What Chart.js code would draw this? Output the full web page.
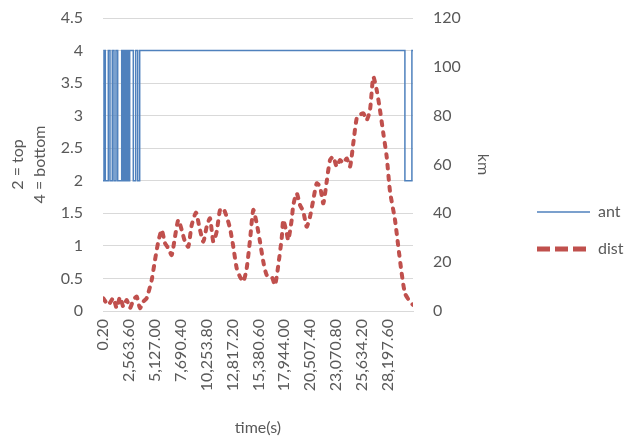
<!DOCTYPE html>
<html>
<head>
<meta charset="utf-8">
<script src="https://cdn.jsdelivr.net/npm/chart.js@4/dist/chart.umd.min.js"></script>
<style>
html,body{margin:0;padding:0;background:#fff;}
#c{display:block;}
</style>
</head>
<body>
<canvas id="c" width="627" height="437"></canvas>
<script>
// time ticks shown on x axis (seconds)
const xTickValues = [0.2, 2563.6, 5127.0, 7690.4, 10253.8, 12817.2, 15380.6, 17944.0, 20507.4, 23070.8, 25634.2, 28197.6];
const xMax = 30690;

// ant: antenna position (2 = top, 4 = bottom), value holds until next change
const antTime = [0.2, 99, 228, 525, 693, 921, 1089, 1287, 1455, 1851, 1950, 2049, 2148, 2247, 2346, 2445, 2505, 2643, 3000, 3237, 3435, 3633, 29889, 30582, 30690];
const antVal  = [2, 4, 2, 4, 2, 4, 2, 4, 2, 4, 2, 4, 2, 4, 2, 4, 2, 4, 2, 4, 2, 4, 2, 4, 4];

// dist: distance in km
const distTime = [30, 525, 1020, 1356, 1683, 2010, 2346, 2673, 3000, 3336, 3663, 3990, 4326, 4821, 5148, 5475, 5811, 6138, 6465, 6801, 7128, 7455, 7791, 8118, 8445, 8781, 9207, 9534, 9930, 10266, 10593, 10920, 11256, 11583, 11910, 12246, 12573, 12900, 13236, 13563, 13890, 14226, 14553, 14880, 15216, 15543, 15870, 16206, 16701, 17028, 17355, 17691, 17850, 18186, 18345, 18681, 18840, 19176, 19503, 19830, 20166, 20493, 20820, 21156, 21483, 21810, 22146, 22473, 22800, 23136, 23463, 23790, 24126, 24453, 24780, 25116, 25443, 25770, 26106, 26433, 26760, 27096, 27423, 27750, 28086, 28413, 28908, 29235, 29571, 29898, 30393, 30690];
const distVal  = [5.2, 2.5, 5.3, 1.2, 5.7, 1.8, 4.5, 1.2, 4.5, 5.9, 1.2, 3.8, 5.3, 12.7, 20.9, 28.4, 33.2, 27.8, 25.7, 22.9, 30.4, 37.3, 33.2, 28.4, 26.3, 35.2, 40.3, 34.5, 28.4, 34.5, 38.0, 28.4, 32.5, 41.4, 42.0, 38.6, 33.9, 26.3, 17.5, 14.0, 12.0, 17.5, 29.0, 41.4, 35.9, 28.4, 20.2, 14.7, 14.0, 10.6, 18.8, 29.8, 37.3, 31.8, 29.0, 37.3, 43.4, 48.2, 43.4, 40.7, 34.5, 38.6, 45.5, 52.3, 50.9, 44.1, 53.0, 61.8, 63.2, 59.1, 61.8, 60.5, 62.5, 59.1, 68.7, 78.9, 80.3, 81.0, 78.2, 82.3, 95.9, 90.5, 82.3, 72.8, 63.2, 49.0, 37.3, 26.3, 15.4, 7.2, 3.8, 2.5];

const leftTitle = ['2 = top', '4 = bottom'];
const rightTitle = 'km';
const xTitle = 'time(s)';

const FONT = "Lato, 'Open Sans', sans-serif";
const FS = 16;
const GRAY = '#595959';
const BLUE = '#4F81BD';
const RED = '#C0504D';

const antData = antTime.map((t, i) => ({x: t, y: antVal[i]}));
const distData = distTime.map((t, i) => ({x: t, y: distVal[i]}));

const fmt = v => v.toLocaleString('en-US', {minimumFractionDigits: 2, maximumFractionDigits: 2});

const legendPlugin = {
  id: 'customLegend',
  afterDraw(chart) {
    const ctx = chart.ctx;
    const items = chart.data.datasets;
    const x0 = chart.width - 90, x1 = x0 + 53, ys = [212, 249];
    ctx.save();
    items.forEach((ds, i) => {
      ctx.beginPath();
      ctx.strokeStyle = ds.borderColor;
      ctx.lineWidth = i === 0 ? 1.5 : 5;
      ctx.setLineDash(i === 0 ? [] : [13, 5]);
      ctx.lineCap = 'butt';
      ctx.moveTo(x0, ys[i]);
      ctx.lineTo(x1, ys[i]);
      ctx.stroke();
      ctx.setLineDash([]);
      ctx.fillStyle = GRAY;
      ctx.font = FS + 'px ' + FONT;
      ctx.textBaseline = 'middle';
      ctx.textAlign = 'left';
      ctx.fillText(ds.label, x1 + 8, ys[i]);
    });
    ctx.restore();
  }
};

const fixVertical = (w) => (axis) => { axis.width = w; axis.paddingTop = 18; axis.paddingBottom = 0; };

new Chart(document.getElementById('c'), {
  type: 'line',
  data: {
    datasets: [
      {label: 'ant', data: antData, yAxisID: 'y', borderColor: BLUE, borderWidth: 1.5, pointRadius: 0, stepped: 'before', fill: false},
      {label: 'dist', data: distData, yAxisID: 'y1', borderColor: RED, borderWidth: 4, borderDash: [4, 7], borderCapStyle: 'round', pointRadius: 0, tension: 0.2, fill: false}
    ]
  },
  options: {
    responsive: false,
    animation: false,
    layout: {padding: {left: 0, top: 0, right: 134, bottom: 0}},
    plugins: {legend: {display: false}, tooltip: {enabled: false}},
    scales: {
      x: {
        type: 'linear', min: 0.2, max: xMax,
        afterBuildTicks: (axis) => { axis.ticks = xTickValues.map(v => ({value: v})); },
        afterFit: (axis) => { axis.height = 126; },
        grid: {display: false, drawTicks: false},
        border: {display: true, color: '#D9D9D9', width: 1},
        ticks: {autoSkip: false, minRotation: 90, maxRotation: 90, padding: 8, color: GRAY, font: {family: FONT, size: FS}, callback: (v) => fmt(v)},
        title: {display: true, text: xTitle, color: GRAY, font: {family: FONT, size: FS}, padding: {top: 0, bottom: 0}}
      },
      y: {
        position: 'left', min: 0, max: 4.5,
        afterFit: fixVertical(103),
        ticks: {stepSize: 0.5, padding: 20, color: GRAY, font: {family: FONT, size: FS}, callback: (v) => String(Number(v))},
        grid: {color: '#D9D9D9', drawTicks: false},
        border: {display: false},
        title: {display: true, text: leftTitle, color: GRAY, font: {family: FONT, size: FS, lineHeight: 1.375}, padding: {top: 7, bottom: 0}}
      },
      y1: {
        position: 'right', min: 0, max: 120,
        afterFit: fixVertical(80),
        ticks: {stepSize: 20, padding: 20, color: GRAY, font: {family: FONT, size: FS}},
        grid: {display: false, drawTicks: false},
        border: {display: false},
        title: {display: true, text: rightTitle, color: GRAY, font: {family: FONT, size: FS}, padding: {top: 0, bottom: 0}}
      }
    }
  },
  plugins: [legendPlugin]
});
</script>
</body>
</html>
